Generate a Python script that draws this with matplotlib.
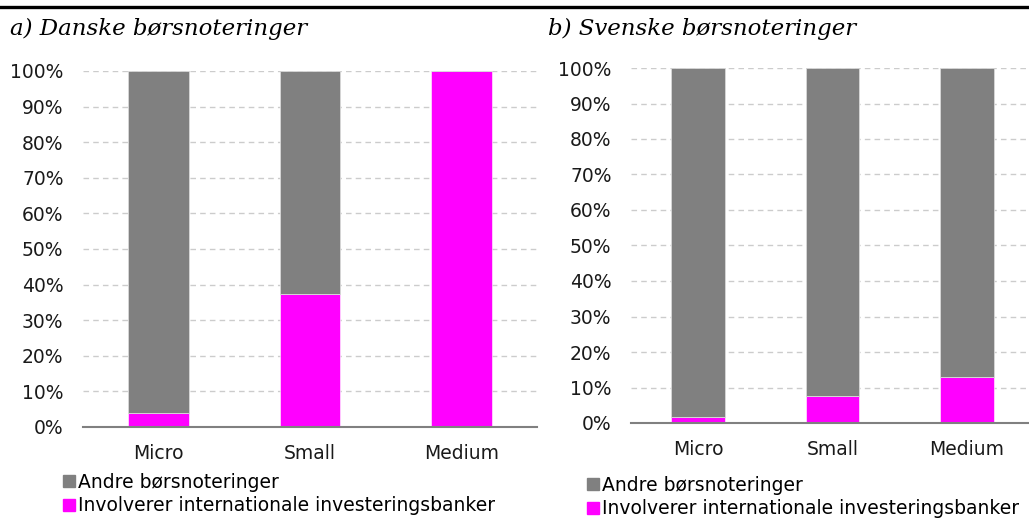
import matplotlib.pyplot as plt
from matplotlib.patches import Patch
from matplotlib.ticker import PercentFormatter, MultipleLocator
import numpy as np

categories = ['Micro', 'Small', 'Medium']
dk_intl = [0.04, 0.375, 1.00]
se_intl = [0.018, 0.075, 0.13]
dk_other = [1 - v for v in dk_intl]
se_other = [1 - v for v in se_intl]

titles = ['a) Danske børsnoteringer', 'b) Svenske børsnoteringer']
legend_labels = ['Andre børsnoteringer', 'Involverer internationale investeringsbanker']

GREY = '#808080'
PINK = '#ff00ff'
W, H = 1029, 519

plt.rcParams['font.family'] = 'DejaVu Sans'

fig = plt.figure(figsize=(W / 100, H / 100), dpi=100)


def px_axes(left, top, right, bottom):
    return fig.add_axes([left / W, 1 - bottom / H, (right - left) / W, (bottom - top) / H])


def draw_panel(ax, intl, other):
    x = np.arange(len(categories))
    ax.bar(x, intl, width=0.4, color=PINK, edgecolor='white', linewidth=0.4, zorder=3)
    ax.bar(x, other, bottom=intl, width=0.4, color=GREY, edgecolor='#d9d9d9',
           linewidth=0.6, zorder=3)
    ax.set_xlim(-0.5, 2.5)
    ax.set_ylim(0, 1)
    ax.yaxis.set_major_locator(MultipleLocator(0.1))
    ax.yaxis.set_major_formatter(PercentFormatter(1.0, decimals=0))
    ax.set_xticks(x)
    ax.set_xticklabels(categories)
    ax.tick_params(axis='both', length=0, labelsize=13.5, colors='#1a1a1a')
    ax.tick_params(axis='y', pad=14)
    ax.tick_params(axis='x', pad=12.5)
    ax.grid(axis='y', color='#cccccc', linestyle=(0, (4, 3)), linewidth=1, zorder=0)
    for s in ['top', 'right', 'left']:
        ax.spines[s].set_visible(False)
    ax.spines['bottom'].set_color(GREY)
    ax.spines['bottom'].set_linewidth(1.5)
    ax.spines['bottom'].set_zorder(4)


ax1 = px_axes(83, 71, 537, 427)
draw_panel(ax1, dk_intl, dk_other)
ax2 = px_axes(631, 68, 1034, 423)
draw_panel(ax2, se_intl, se_other)

# titles
fig.text(10 / W, 1 - 29 / H, titles[0], fontsize=16.5, style='italic',
         family='DejaVu Serif', va='center', ha='left')
fig.text(548 / W, 1 - 29 / H, titles[1], fontsize=16.5, style='italic',
         family='DejaVu Serif', va='center', ha='left')

# top rule
fig.add_artist(plt.Line2D([0, 1], [1 - 7 / H, 1 - 7 / H], color='black', linewidth=2.4))

handles = [Patch(color=GREY), Patch(color=PINK)]
for x0, y0 in [(63, 494), (587, 497)]:
    fig.legend(handles, legend_labels, loc='center left',
               bbox_to_anchor=(x0 / W, 1 - y0 / H), frameon=False, fontsize=13.5,
               handlelength=0.65, handleheight=0.65, handletextpad=0.15,
               labelspacing=0.25, borderaxespad=0, borderpad=0)

fig.savefig('out.png', dpi=100)
